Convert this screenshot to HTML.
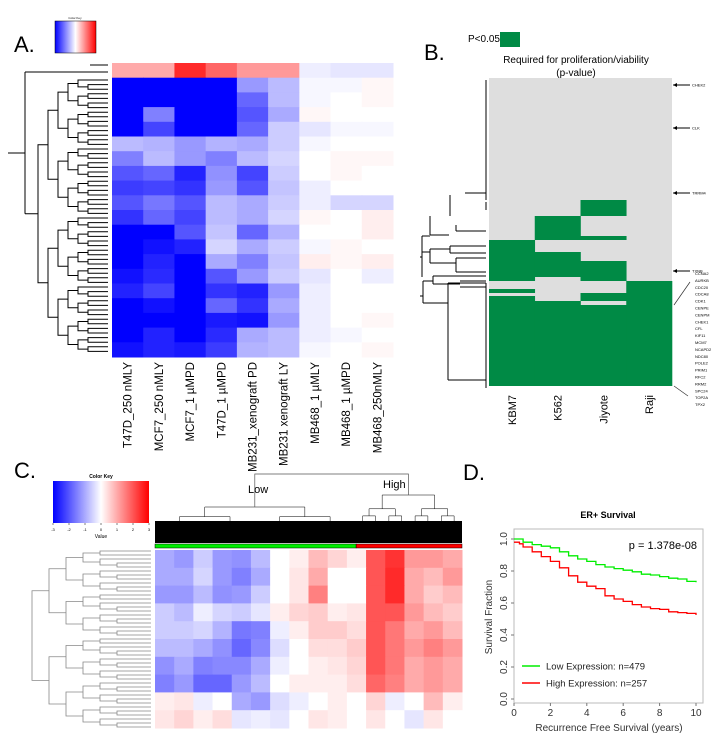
<!DOCTYPE html>
<html><head><meta charset="utf-8"><style>
html,body{margin:0;padding:0;background:#fff;}
svg{display:block;font-family:"Liberation Sans",sans-serif;}
</style></head><body>
<svg id="fig" width="724" height="750" viewBox="0 0 724 750">
<g id="pA"></g>
<g id="pB"></g>
<g id="pC"></g>
<g id="pD"></g>
</svg>
<script>
// ---------- Panel A data ----------
const aColumns = ["T47D_250 nMLY","MCF7_250 nMLY","MCF7_1 µMPD","T47D_1 µMPD","MB231_xenograft PD","MB231 xenograft LY","MB468_1 µMLY","MB468_1 µMPD","MB468_250nMLY"];
const aRows = [
 [1,1,2.5,1.8,1.2,1.2,-0.2,-0.3,-0.3],
 [-3,-3,-3,-3,-1.2,-0.8,-0.1,-0.1,0.1],
 [-3,-3,-3,-3,-1.8,-0.8,-0.1,0,0.1],
 [-3,-1.5,-3,-3,-2,-1,0.1,0,0],
 [-3,-2.2,-3,-3,-1.8,-0.6,-0.3,-0.1,-0.1],
 [-0.8,-0.9,-1.2,-0.9,-1,-0.6,-0.1,0,0],
 [-1.5,-0.8,-1.2,-1.5,-0.8,-0.5,0,0.1,0.1],
 [-2,-1.8,-2.6,-1.3,-2.2,-0.6,0,0.1,0],
 [-2.3,-2.2,-2.4,-1.2,-2,-0.7,-0.2,0,0],
 [-2,-1.6,-2,-0.8,-1,-0.6,-0.2,-0.5,-0.5],
 [-2.4,-1.8,-2.2,-0.8,-1,-0.5,0.1,0,0.2],
 [-3,-3,-2,-0.7,-1.8,-0.9,0,0,0.2],
 [-3,-2.8,-2.6,-0.5,-1,-0.6,-0.1,0.1,0],
 [-3,-2.6,-3,-1,-1.5,-0.7,0.2,0.1,0.2],
 [-2.8,-2.5,-3,-2,-1.2,-0.6,-0.3,0,-0.2],
 [-2.6,-2.2,-3,-2.4,-2.6,-1.2,-0.2,0,0],
 [-3,-2.8,-3,-1.8,-2.4,-1,-0.2,0,0],
 [-3,-3,-3,-2.7,-2.8,-1.2,-0.2,0,0.1],
 [-3,-2.6,-3,-2.5,-1,-0.8,-0.2,-0.1,0],
 [-2.8,-2.6,-2.7,-2.3,-0.9,-0.8,-0.1,0,0.1]
];
// ---------- Panel B data ----------
const bColumns = ["KBM7","K562","Jiyote","Raji"];
const bSig = [
 [[162,203],[211,215],[218,308]],
 [[138,162],[174,199],[223,308]],
 [[122,138],[158,162],[183,203],[215,223],[227,308]],
 [[203,308]]
];
const bTotalRows = 308;
const bArrowGenes = ["CHEK2","CLK","TRRM4","TXNB"];
const bArrowRows = [7,50,115,193];
const bGeneList = ["CCNA2","AURKB","CDC20","CDCA8","CDK1","CENPE","CENPM","CHEK1","CFL","KIF11","MCM7","NCAPD2","NDC80","POLE2","PRIM1","RFC2","RRM2","SPC24","TOP2A","TPX2"];
// ---------- Panel C data ----------
const cRows = [
 [-1,-1.2,-0.6,-1.2,-1.3,-0.8,0,0.2,0.8,0.5,0.2,2,2.4,1.2,1.2,1],
 [-1,-1,-0.5,-1.2,-1.5,-1,0,0.3,1,0,0,2,2.5,1,0.8,1.2],
 [-1.2,-1.2,-0.8,-1.3,-1.2,-0.6,0,0.3,1.5,0,0,2,2.5,1,0.6,0.8],
 [-0.6,-0.8,-0.2,-0.5,-0.6,-0.3,0.2,0.5,0.6,0.2,0.3,2,2,1.2,0.8,0.6],
 [-0.6,-0.6,-0.5,-0.9,-1.6,-1.5,-0.2,0.2,0.6,0.6,0.4,2,1.6,1,1.2,0.8],
 [-0.8,-0.8,-1,-1.3,-1.8,-1.4,-0.4,0,0.4,0.4,0.6,2,1.6,1.2,1.5,1.2],
 [-1.3,-1,-1.5,-1.4,-1.4,-1,-0.2,0,0.2,0.3,0.5,2,1.6,1,1.2,1],
 [-1.5,-1.2,-1.8,-1.8,-1.2,-0.8,0,0.2,0.2,0.2,0.4,1.8,1.5,1,1.2,1],
 [0.2,0.3,-0.2,0,-1,-1.2,-0.4,-0.2,0,0.2,0,0.5,-0.2,0,0.8,0.2],
 [0.3,0.5,0.2,0.4,-0.3,-0.2,-0.3,0,0.3,0.2,0,0.3,0,-0.3,0.3,0]
];
const cGroups = ["Low","High"];
const cGroupSize = [190,100];
// ---------- Panel D data ----------
const dTimesLow = [0,0.5,1,1.5,2,2.5,3,3.5,4,4.5,5,5.5,6,6.5,7,7.5,8,8.5,9,9.5,10];
const dSurvLow  = [1.0,0.98,0.965,0.955,0.945,0.92,0.895,0.875,0.86,0.84,0.825,0.815,0.805,0.795,0.78,0.775,0.765,0.755,0.75,0.735,0.73];
const dTimesHigh = [0,0.3,0.5,1,1.5,2,2.5,3,3.5,4,4.5,5,5.5,6,6.5,7,7.5,8,8.5,9,9.5,10];
const dSurvHigh  = [0.98,0.97,0.95,0.92,0.89,0.86,0.82,0.77,0.73,0.705,0.69,0.645,0.625,0.61,0.59,0.575,0.565,0.56,0.545,0.54,0.535,0.525];
const dXTicks = [0,2,4,6,8,10];
const dYTicks = [0.0,0.2,0.4,0.6,0.8,1.0];
const dLegend = ["Low Expression: n=479","High Expression: n=257"];

const NS="http://www.w3.org/2000/svg";
function mk(parent,tag,attrs,text){const e=document.createElementNS(NS,tag);for(const k in attrs)e.setAttribute(k,attrs[k]);if(text!==undefined)e.textContent=text;parent.appendChild(e);return e;}
function col(v){const t=Math.min(1,Math.abs(v)/3);const c=Math.round(255*(1-t));return v<0?`rgb(${c},${c},255)`:`rgb(255,${c},${c})`;}
function dendroV(g,leaves,x0,x1,color,w){
  function rec(a,b,depth,maxD){
    if(b-a===1){return {y:leaves[a],x:x1};}
    const m=Math.floor((a+b)/2);const L=rec(a,m,depth+1,maxD),R=rec(m,b,depth+1,maxD);
    const x=x0+(x1-x0)*(depth/maxD);
    mk(g,'path',{d:`M${L.x},${L.y}H${x}V${R.y}H${R.x}`,fill:'none',stroke:color,'stroke-width':w});
    return {y:(L.y+R.y)/2,x:x};
  }
  const maxD=Math.ceil(Math.log2(leaves.length))+1;return rec(0,leaves.length,0,maxD);
}
function dendroH(g,leaves,y0,y1,color,w){
  function rec(a,b,depth,maxD){
    if(b-a===1){return {x:leaves[a],y:y1};}
    const m=Math.floor((a+b)/2);const L=rec(a,m,depth+1,maxD),R=rec(m,b,depth+1,maxD);
    const y=y0+(y1-y0)*Math.pow(depth/maxD,0.6);
    mk(g,'path',{d:`M${L.x},${L.y}V${y}H${R.x}V${R.y}`,fill:'none',stroke:color,'stroke-width':w});
    return {x:(L.x+R.x)/2,y:y};
  }
  const maxD=Math.ceil(Math.log2(leaves.length))+1;return rec(0,leaves.length,0,maxD);
}

// ===== Panel A =====
(function(){
const g=document.getElementById('pA');
const t=mk(g,'text',{x:14,y:52,'font-size':22},'A.');

const defs=mk(g,'defs',{});const lg=mk(defs,'linearGradient',{id:'bwr'});
mk(lg,'stop',{offset:'0','stop-color':'#0000ff'});mk(lg,'stop',{offset:'0.5','stop-color':'#ffffff'});mk(lg,'stop',{offset:'1','stop-color':'#ff0000'});
const key=mk(g,'rect',{x:55,y:21,width:41,height:32,fill:'url(#bwr)',stroke:'#000','stroke-width':0.5});

mk(g,'text',{x:75,y:19,'font-size':3,'text-anchor':'middle'},'Color Key');
const x0=112,x1=393,y0=63,y1=357;const cw=(x1-x0)/aColumns.length,rh=(y1-y0)/aRows.length;
const hm=mk(g,'g',{});
aRows.forEach((r,i)=>r.forEach((v,j)=>{
  const c=mk(hm,'rect',{x:x0+j*cw,y:y0+i*rh,width:cw+0.5,height:rh+0.5,fill:col(v)});
  
  
}));
aColumns.forEach((n,j)=>{const cx=x0+(j+0.5)*cw+4;
  const l=mk(g,'text',{x:0,y:0,'font-size':11.5,'text-anchor':'end',transform:`translate(${cx},362) rotate(-90)`},n);
  });
const dg=mk(g,'g',{});
const leaves=[];for(let y=80;y<=355;y+=4.6)leaves.push(y);
const r=dendroV(dg,leaves,38,108,'#000',1);
mk(dg,'path',{d:`M25,72H108M90,65H108M25,72V${r.y}M25,${r.y}H38M8,153H25`,fill:'none',stroke:'#000','stroke-width':1});
})();

// ===== Panel B =====
(function(){
const g=document.getElementById('pB');
const t=mk(g,'text',{x:424,y:60,'font-size':22},'B.');
mk(g,'text',{x:468,y:42,'font-size':10},'P<0.05');
const lk=mk(g,'rect',{x:500,y:32,width:20,height:15,fill:'#008a45'});
mk(g,'text',{x:576,y:63,'font-size':10,'text-anchor':'middle'},'Required for proliferation/viability');
mk(g,'text',{x:576,y:76,'font-size':10,'text-anchor':'middle'},'(p-value)');
const x0=489,x1=672,y0=78,y1=386;const cw=(x1-x0)/bColumns.length;const ry=r=>y0+(y1-y0)*r/bTotalRows;
const hm=mk(g,'g',{});
mk(hm,'rect',{x:x0,y:y0,width:x1-x0,height:y1-y0,fill:'#dedede'});
bSig.forEach((segs,j)=>segs.forEach(s=>{
  const c=mk(hm,'rect',{x:x0+j*cw,y:ry(s[0]),width:cw+0.3,height:ry(s[1])-ry(s[0]),fill:'#008a45'});
  
  
}));
bColumns.forEach((n,j)=>{const cx=x0+(j+0.5)*cw+4;
  const l=mk(g,'text',{'font-size':11,'text-anchor':'end',transform:`translate(${cx},395) rotate(-90)`},n);
  });
bArrowRows.forEach((r,i)=>{const y=ry(r);
  mk(g,'path',{d:`M673,${y}H690`,stroke:'#000','stroke-width':1});mk(g,'path',{d:`M673,${y}l4,-2v4z`,fill:'#000'});
  mk(g,'text',{x:692,y:y+1.5,'font-size':4},bArrowGenes[i]);});
bGeneList.forEach((n,i)=>mk(g,'text',{x:695,y:275+i*6.9,'font-size':4},n));
mk(g,'path',{d:'M674,305L690,282M674,386L688,396',stroke:'#333','stroke-width':0.7});
const dg=mk(g,'g',{});
mk(dg,'path',{d:'M486,80V200M465,193H486M430,216V235M450,195V216M486,202V210M456,231H486M456,225V231M422,236H430M430,235H449M430,249V263M422,252H430M430,249H450M450,246V253M450,246H486M450,253H486M430,263H456M456,258V272M456,258H486M456,272H486M422,236V277M420,257H422M423,281V303M423,281H433M423,303H448M433,276V284M433,276H486M433,284H460M460,281H486M460,287H486M448,283V380M448,283H486M448,380H486M486,283V388M420,296H423',fill:'none',stroke:'#000','stroke-width':1});
})();

// ===== Panel C =====
(function(){
const g=document.getElementById('pC');
const t=mk(g,'text',{x:14,y:478,'font-size':22},'C.');
const key=mk(g,'rect',{x:53,y:481,width:96,height:42,fill:'url(#bwr)'});
mk(g,'text',{x:101,y:478,'font-size':5,'text-anchor':'middle','font-weight':'bold'},'Color Key');
[-3,-2,-1,0,1,2,3].forEach((v,i)=>{const x=53+i*16;mk(g,'path',{d:`M${x},523v2`,stroke:'#000','stroke-width':0.5});mk(g,'text',{x:x,y:531,'font-size':4,'text-anchor':'middle'},String(v));});
mk(g,'text',{x:101,y:538,'font-size':5,'text-anchor':'middle'},'Value');
const x0=155,x1=462,y0=550,y1=728;const nc=cRows[0].length;const cw=(x1-x0)/nc,rh=(y1-y0)/cRows.length;
const hm=mk(g,'g',{});
cRows.forEach((r,i)=>r.forEach((v,j)=>{
  const c=mk(hm,'rect',{x:x0+j*cw,y:y0+i*rh,width:cw+0.5,height:rh+0.5,fill:col(v)});
  
  
}));
const tot=cGroupSize[0]+cGroupSize[1];const split=x0+(x1-x0)*cGroupSize[0]/tot;
const gb=mk(g,'rect',{x:x0,y:544,width:split-x0,height:4,fill:'#00ee00',stroke:'#000','stroke-width':0.5});
const rb=mk(g,'rect',{x:split,y:544,width:x1-split,height:4,fill:'#ff0000',stroke:'#000','stroke-width':0.5});
const td=mk(g,'g',{});
const lowL=[],highL=[];for(let i=0;i<cGroupSize[0];i++)lowL.push(x0+1+(split-x0-2)*i/(cGroupSize[0]-1));for(let i=0;i<cGroupSize[1];i++)highL.push(split+1+(x1-split-2)*i/(cGroupSize[1]-1));
const a=dendroH(td,lowL,507,543,'#000',0.5),b=dendroH(td,highL,495,543,'#000',0.5);
mk(td,'path',{d:`M${a.x},507V474H${b.x}V495`,fill:'none',stroke:'#555','stroke-width':0.7});
mk(td,'rect',{x:x0,y:521,width:x1-x0,height:22,fill:'#000'});
mk(g,'text',{x:248,y:493,'font-size':11},cGroups[0]);mk(g,'text',{x:383,y:488,'font-size':11},cGroups[1]);
const rd=mk(g,'g',{});
const leaves=[];for(let y=551;y<=727;y+=4)leaves.push(y);
dendroV(rd,leaves,32,151,'#888',0.8);
})();

// ===== Panel D =====
(function(){
const g=document.getElementById('pD');
const t=mk(g,'text',{x:463,y:480,'font-size':22},'D.');
const px0=514,px1=696,py0=699,py1=539;
const X=v=>px0+(px1-px0)*v/10,Y=v=>py0+(py1-py0)*v;
const box=mk(g,'rect',{x:514,y:529,width:189,height:174,fill:'none',stroke:'#bbb','stroke-width':1});
mk(g,'text',{x:608,y:518,'font-size':9,'font-weight':'bold','text-anchor':'middle'},'ER+ Survival');
dXTicks.forEach(v=>{mk(g,'path',{d:`M${X(v)},703v3`,stroke:'#777'});const l=mk(g,'text',{x:X(v),y:716,'font-size':10,'text-anchor':'middle',fill:'#333'},String(v));});
dYTicks.forEach(v=>{mk(g,'path',{d:`M514,${Y(v)}h-3`,stroke:'#777'});const l=mk(g,'text',{'font-size':10,'text-anchor':'middle',fill:'#333',transform:`translate(507,${Y(v)}) rotate(-90)`},v.toFixed(1));});
const xt=mk(g,'text',{x:609,y:731,'font-size':10,'text-anchor':'middle',fill:'#333'},'Recurrence Free Survival (years)');
const yt=mk(g,'text',{'font-size':10,'text-anchor':'middle',fill:'#333',transform:'translate(492,617) rotate(-90)'},'Survival Fraction');
function step(ts,ss){let d=`M${X(ts[0])},${Y(ss[0])}`;for(let i=1;i<ts.length;i++)d+=`H${X(ts[i])}V${Y(ss[i])}`;return d;}
const gl=mk(g,'path',{d:step(dTimesLow,dSurvLow),fill:'none',stroke:'#00ee00','stroke-width':1.3});
const rl=mk(g,'path',{d:step(dTimesHigh,dSurvHigh),fill:'none',stroke:'#ff0000','stroke-width':1.3});
mk(g,'text',{x:697,y:549,'font-size':11,'text-anchor':'end'},'p = 1.378e-08');
[['#00ee00',0],['#ff0000',1]].forEach(([c,i])=>{const y=666+i*17;mk(g,'path',{d:`M522,${y}H540`,stroke:c,'stroke-width':1.5});const l=mk(g,'text',{x:546,y:y+3.5,'font-size':9.5,fill:'#222'},dLegend[i]);});
})();
</script>
</body></html>
